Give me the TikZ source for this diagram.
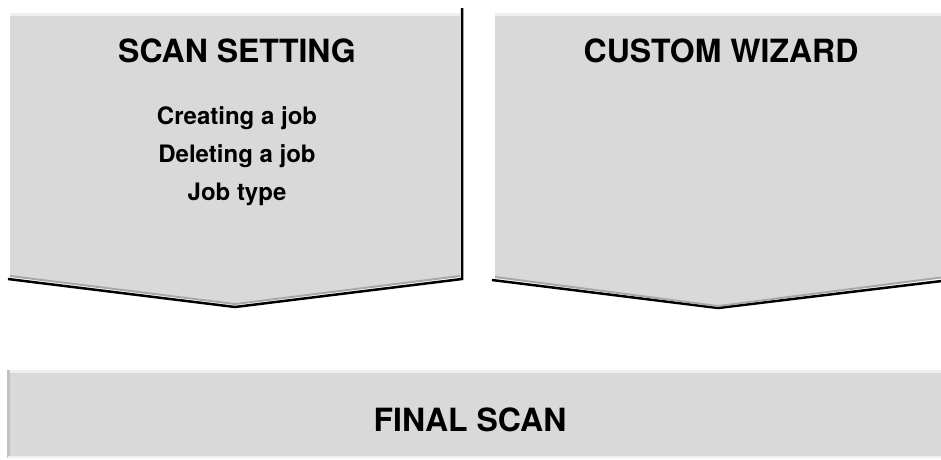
\documentclass[tikz,border=0pt]{standalone}
\usepackage{fontspec}
\setmainfont{TeX Gyre Heros}
\definecolor{boxgray}{HTML}{D9D9D9}
\definecolor{bevellight}{HTML}{EFEFEF}
\definecolor{beveldark}{HTML}{A8A8A8}
\begin{document}
\begin{tikzpicture}[x=1pt,y=-1pt,
  panel/.style={fill=boxgray},
  shadowline/.style={draw=black,line width=2.5pt,line join=miter},
  title/.style={font=\bfseries\fontsize{32}{38}\selectfont},
  item/.style={font=\bfseries\fontsize{24}{29}\selectfont}]
  \useasboundingbox (0,0) rectangle (941,459);
  % scan setting chevron
  \draw[shadowline] (462,8) -- (462,279) -- (235,307) -- (8,279);
  \fill[panel] (10,13) -- (460,13) -- (460,276) -- (235,303) -- (10,276) -- cycle;
  \draw[bevellight,line width=3pt] (10,14) -- (460,14);
  \draw[beveldark,line width=2pt] (10,276) -- (235,304) -- (460,276);
  \node[title] (scan) at (237,51) {SCAN SETTING};
  \node[item] (create) at (237,118) {Creating a job};
  \node[item] (delete) at (237,156) {Deleting a job};
  \node[item] (jobtype) at (237,194) {Job type};
  % custom wizard chevron
  \draw[shadowline] (492,280) -- (718,308) -- (950,280);
  \fill[panel] (495,13) -- (945,13) -- (945,277) -- (718,305) -- (495,277) -- cycle;
  \draw[bevellight,line width=3pt] (495,14) -- (945,14);
  \draw[beveldark,line width=2pt] (495,277) -- (718,306) -- (945,277);
  \node[title] (wizard) at (721,51) {CUSTOM WIZARD};
  % final scan bar
  \fill[panel] (8,370) rectangle (945,458);
  \draw[bevellight,line width=3pt] (8,371) -- (945,371);
  \draw[beveldark!70,line width=3pt] (8,370) -- (8,458);
  \draw[bevellight,line width=2pt] (8,457) -- (945,457);
  \node[title] (final) at (470,420) {FINAL SCAN};
\end{tikzpicture}
\end{document}
